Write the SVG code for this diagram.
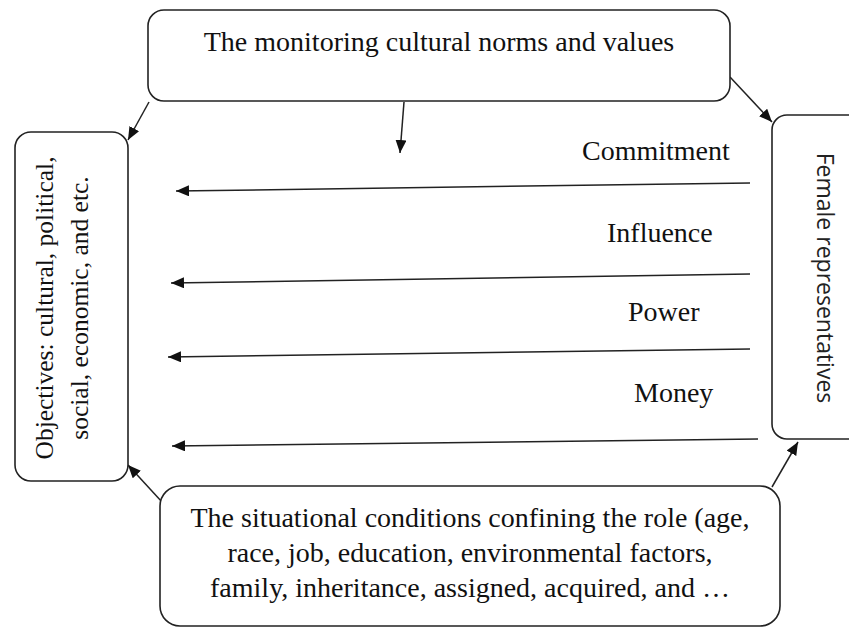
<svg xmlns="http://www.w3.org/2000/svg" width="849" height="629" viewBox="0 0 849 629">
<style>
.box{fill:#fff;stroke:#222;stroke-width:1.6}
.t{font-family:"Liberation Serif","Times New Roman",serif;font-size:28px;fill:#111}
.s{font-family:"Open Sans","DejaVu Sans",sans-serif;font-size:23px;fill:#222}
.c{fill:none;stroke:#222;stroke-width:1.5}
</style>
<defs>
<marker id="ah" markerUnits="userSpaceOnUse" markerWidth="13" markerHeight="11" viewBox="0 0 13 11" refX="13" refY="5.5" orient="auto">
<path d="M0,0 L13,5.5 L0,11 Z" fill="#111"/>
</marker>
</defs>
<rect width="849" height="629" fill="#fff"/>
<g id="connectors">
<line class="c" x1="149" y1="102" x2="128" y2="140" marker-end="url(#ah)"/>
<line class="c" x1="404" y1="102" x2="400" y2="153" marker-end="url(#ah)"/>
<line class="c" x1="730" y1="77" x2="772" y2="122" marker-end="url(#ah)"/>
<line class="c" x1="162" y1="502" x2="128" y2="465" marker-end="url(#ah)"/>
<line class="c" x1="772" y1="487" x2="798" y2="442" marker-end="url(#ah)"/>
<line class="c" x1="750" y1="183" x2="176" y2="191" marker-end="url(#ah)"/>
<line class="c" x1="750" y1="274" x2="171" y2="283" marker-end="url(#ah)"/>
<line class="c" x1="750" y1="349" x2="168" y2="357" marker-end="url(#ah)"/>
<line class="c" x1="758" y1="439" x2="172" y2="446" marker-end="url(#ah)"/>
</g>
<g id="labels">
<text class="t" x="582" y="160">Commitment</text>
<text class="t" x="607" y="242">Influence</text>
<text class="t" x="628" y="321">Power</text>
<text class="t" x="634" y="402">Money</text>
</g>
<g id="node-norms">
<rect class="box" x="148" y="10" width="582" height="91" rx="16"/>
<text class="t" x="439" y="51" text-anchor="middle">The monitoring cultural norms and values</text>
</g>
<g id="node-objectives">
<rect class="box" x="15" y="132" width="113" height="349" rx="16"/>
<text class="t" style="font-size:25.5px" transform="translate(53,308) rotate(-90)" text-anchor="middle"><tspan x="0" y="0">Objectives: cultural, political,</tspan><tspan x="0" y="35">social,  economic,  and etc.</tspan></text>
</g>
<g id="node-female">
<rect class="box" x="772" y="115" width="95" height="324" rx="15"/>
<text class="s" transform="translate(817,278) rotate(90)" text-anchor="middle">Female representatives</text>
</g>
<g id="node-situational">
<rect class="box" x="160" y="486" width="620" height="140" rx="20"/>
<text class="t" text-anchor="middle"><tspan x="470" y="527">The situational conditions confining the role (age,</tspan><tspan x="470" y="562">race, job, education, environmental factors,</tspan><tspan x="470" y="597">family, inheritance, assigned, acquired, and …</tspan></text>
</g>
</svg>
